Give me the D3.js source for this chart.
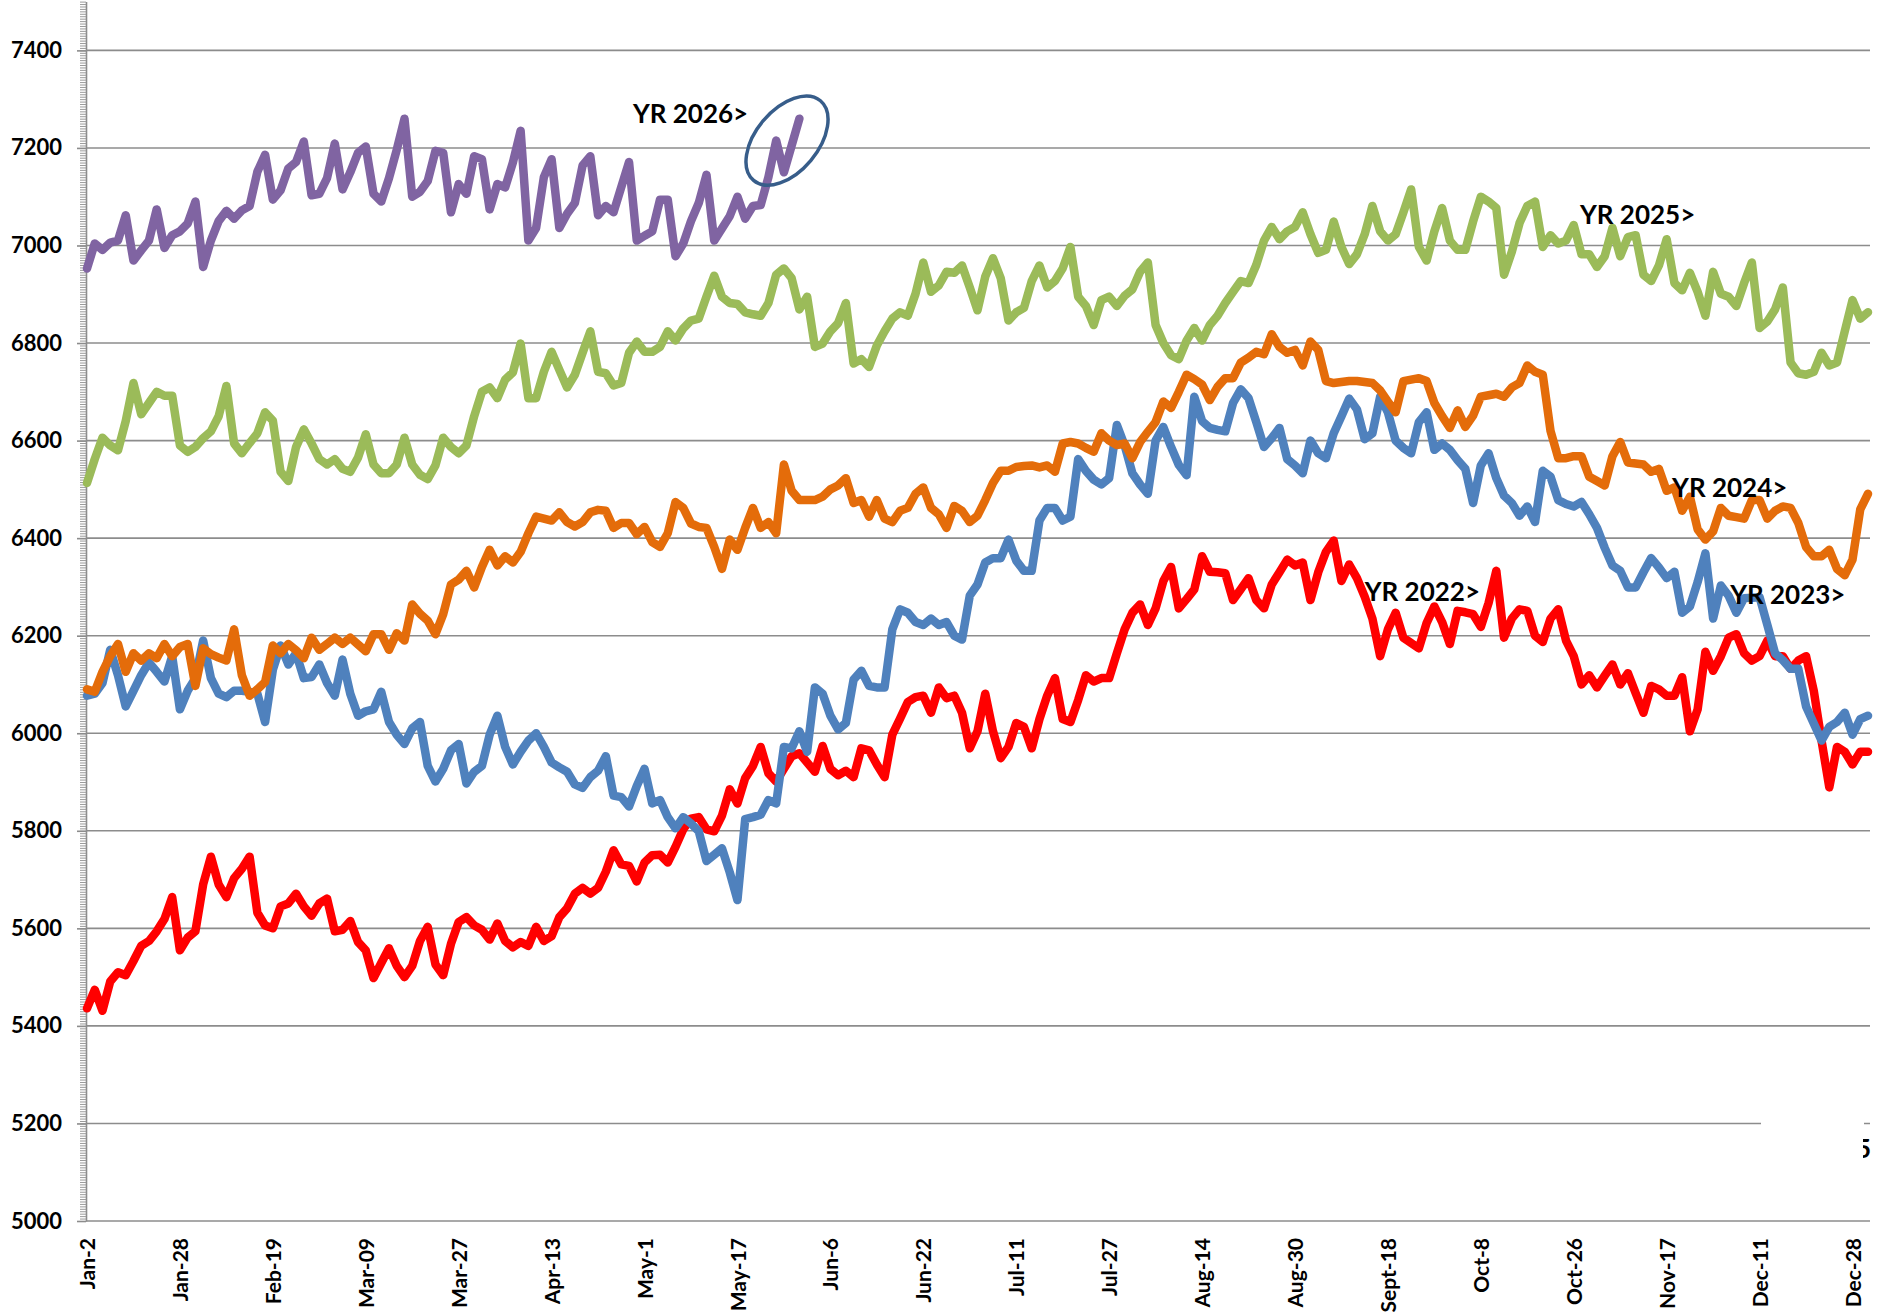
<!DOCTYPE html>
<html>
<head>
<meta charset="utf-8">
<script src="https://cdn.jsdelivr.net/npm/d3@7"></script>
<style>
  body { margin: 0; background: #fff; }
  svg text { font-family: Lato, "Open Sans", sans-serif; font-weight: bold; fill: #000; }
</style>
</head>
<body>
<script>
// Chart size
var width = 1881,
    height = 1314;

// Category axis: one point per trading day, a label every 12 points
var nPoints = 231;
var tickStep = 12;
var tickLabels = ["Jan-2", "Jan-28", "Feb-19", "Mar-09", "Mar-27", "Apr-13", "May-1", "May-17",
    "Jun-6", "Jun-22", "Jul-11", "Jul-27", "Aug-14", "Aug-30", "Sept-18", "Oct-8", "Oct-26",
    "Nov-17", "Dec-11", "Dec-28"];

var yTicks = [5000, 5200, 5400, 5600, 5800, 6000, 6200, 6400, 6600, 6800, 7000, 7200, 7400];

// Series values
var yr2022 = [
    5436, 5474, 5431, 5491, 5510, 5504, 5533, 5564, 5574, 5594,
    5619, 5664, 5555, 5581, 5594, 5690, 5747, 5690, 5664, 5703,
    5722, 5747, 5632, 5606, 5600, 5645, 5651, 5671, 5645, 5626,
    5651, 5661, 5594, 5597, 5615, 5572, 5555, 5498, 5529, 5559,
    5523, 5500, 5523, 5574, 5603, 5526, 5504, 5568, 5613, 5623,
    5606, 5597, 5577, 5610, 5574, 5561, 5572, 5564, 5603, 5574,
    5584, 5623, 5641, 5671, 5683, 5671, 5683, 5716, 5760, 5731,
    5728, 5696, 5735, 5750, 5751, 5735, 5767, 5803, 5825, 5828,
    5803, 5799, 5831, 5885, 5856, 5908, 5933, 5972, 5918, 5901,
    5927, 5953, 5959, 5940, 5921, 5974, 5927, 5914, 5923, 5910,
    5969, 5965, 5936, 5910, 5997, 6030, 6064, 6074, 6077, 6042,
    6094, 6072, 6077, 6042, 5969, 6004, 6081, 6004, 5949, 5972,
    6021, 6013, 5969, 6029, 6077, 6113, 6029, 6023, 6068, 6119,
    6106, 6113, 6113, 6164, 6213, 6247, 6264, 6222, 6256, 6312,
    6341, 6256, 6275, 6295, 6363, 6331, 6330, 6328, 6273, 6295,
    6318, 6273, 6256, 6305, 6330, 6356, 6344, 6350, 6273, 6330,
    6372, 6395, 6312, 6346, 6318, 6280, 6235, 6158, 6213, 6247,
    6196, 6185, 6174, 6226, 6260, 6228, 6183, 6251, 6248, 6244,
    6218, 6267, 6333, 6196, 6235, 6254, 6251, 6200, 6187, 6235,
    6254, 6190, 6158, 6100, 6119, 6094, 6118, 6141, 6100, 6123,
    6082, 6042, 6097, 6090, 6077, 6077, 6115, 6004, 6049, 6167,
    6128, 6158, 6196, 6203, 6164, 6149, 6158, 6190, 6158, 6158,
    6132, 6149, 6158, 6087, 5985, 5889, 5972, 5962, 5936, 5962,
    5962];

var yr2023 = [
    6077, 6081, 6103, 6171, 6119, 6055, 6087, 6119, 6145, 6126,
    6106, 6158, 6049, 6087, 6113, 6190, 6113, 6081, 6074, 6087,
    6087, 6085, 6081, 6023, 6130, 6180, 6141, 6164, 6113, 6115,
    6141, 6103, 6077, 6151, 6081, 6036, 6045, 6049, 6085, 6023,
    5997, 5978, 6010, 6023, 5933, 5901, 5927, 5965, 5978, 5897,
    5921, 5933, 5997, 6036, 5972, 5936, 5962, 5985, 6000, 5972,
    5940, 5930, 5921, 5895, 5888, 5910, 5923, 5953, 5872, 5869,
    5850, 5892, 5927, 5856, 5863, 5828, 5805, 5828, 5815, 5799,
    5738, 5751, 5764, 5715, 5658, 5824, 5828, 5833, 5863, 5856,
    5972, 5969, 6004, 5962, 6094, 6081, 6036, 6008, 6021, 6110,
    6128, 6097, 6094, 6094, 6213, 6254, 6247, 6228, 6222, 6235,
    6222, 6228, 6200, 6192, 6282, 6305, 6350, 6359, 6359, 6397,
    6354, 6333, 6333, 6436, 6462, 6462, 6436, 6444, 6562, 6538,
    6520, 6510, 6523, 6632, 6590, 6533, 6510, 6491, 6600, 6628,
    6587, 6550, 6529, 6690, 6640, 6626, 6622, 6619, 6677, 6705,
    6687, 6638, 6587, 6605, 6626, 6562, 6549, 6533, 6600, 6574,
    6564, 6615, 6650, 6686, 6664, 6603, 6615, 6690, 6658, 6600,
    6585, 6574, 6638, 6658, 6581, 6594, 6581, 6560, 6542, 6472,
    6549, 6574, 6523, 6487, 6472, 6446, 6465, 6433, 6538, 6526,
    6478, 6470, 6465, 6474, 6449, 6421, 6380, 6344, 6333, 6299,
    6299, 6330, 6359, 6340, 6318, 6331, 6247, 6260, 6310, 6369,
    6235, 6303, 6282, 6247, 6277, 6278, 6279, 6222, 6164, 6150,
    6132, 6132, 6055, 6020, 5985, 6013, 6023, 6042, 5997, 6029,
    6036];

var yr2024 = [
    6090, 6085, 6126, 6158, 6183, 6126, 6164, 6149, 6164, 6154,
    6183, 6158, 6177, 6183, 6097, 6174, 6162, 6155, 6149, 6213,
    6119, 6077, 6090, 6105, 6180, 6164, 6183, 6170, 6154, 6196,
    6171, 6183, 6196, 6183, 6196, 6182, 6168, 6203, 6203, 6171,
    6205, 6190, 6264, 6245, 6231, 6203, 6244, 6305, 6315, 6333,
    6299, 6341, 6376, 6344, 6363, 6350, 6372, 6410, 6444, 6440,
    6436, 6453, 6433, 6424, 6433, 6453, 6458, 6456, 6421, 6431,
    6431, 6408, 6423, 6392, 6382, 6410, 6474, 6462, 6430, 6423,
    6421, 6382, 6337, 6397, 6376, 6421, 6462, 6421, 6433, 6410,
    6551, 6497, 6478, 6478, 6478, 6485, 6500, 6508, 6523, 6472,
    6478, 6444, 6478, 6440, 6433, 6456, 6462, 6491, 6504, 6462,
    6449, 6421, 6466, 6456, 6433, 6446, 6478, 6513, 6538, 6538,
    6546, 6548, 6549, 6545, 6549, 6536, 6594, 6597, 6594, 6585,
    6577, 6615, 6600, 6591, 6594, 6564, 6597, 6618, 6638, 6680,
    6667, 6700, 6735, 6726, 6715, 6683, 6710, 6728, 6728, 6760,
    6770, 6782, 6777, 6818, 6792, 6780, 6786, 6754, 6803, 6786,
    6722, 6718, 6720, 6722, 6722, 6720, 6718, 6703, 6680, 6658,
    6722, 6725, 6728, 6722, 6677, 6650, 6626, 6662, 6628, 6651,
    6690, 6693, 6696, 6690, 6709, 6718, 6754, 6741, 6735, 6620,
    6564, 6564, 6568, 6568, 6526, 6517, 6508, 6568, 6597, 6555,
    6553, 6551, 6536, 6542, 6497, 6504, 6456, 6485, 6418, 6397,
    6414, 6462, 6446, 6443, 6440, 6478, 6478, 6440, 6456, 6465,
    6462, 6431, 6382, 6363, 6363, 6376, 6337, 6324, 6356, 6459,
    6491];

var yr2025 = [
    6513, 6562, 6606, 6590, 6580, 6640, 6718, 6654, 6677, 6700,
    6692, 6692, 6590, 6577, 6587, 6605, 6619, 6650, 6712, 6594,
    6574, 6595, 6615, 6658, 6641, 6536, 6517, 6587, 6623, 6594,
    6562, 6551, 6562, 6542, 6536, 6565, 6613, 6551, 6533, 6533,
    6551, 6606, 6551, 6530, 6521, 6549, 6606, 6587, 6574, 6590,
    6650, 6700, 6709, 6687, 6725, 6740, 6799, 6687, 6687, 6741,
    6782, 6745, 6709, 6735, 6780, 6824, 6741, 6738, 6713, 6718,
    6780, 6803, 6782, 6782, 6792, 6824, 6805, 6830, 6846, 6850,
    6895, 6938, 6895, 6882, 6880, 6863, 6859, 6856, 6882, 6940,
    6953, 6933, 6869, 6895, 6792, 6799, 6824, 6841, 6882, 6758,
    6767, 6751, 6795, 6824, 6850, 6863, 6856, 6901, 6965, 6905,
    6918, 6946, 6944, 6959, 6914, 6867, 6936, 6974, 6933, 6846,
    6863, 6872, 6927, 6959, 6914, 6927, 6953, 6997, 6895, 6876,
    6837, 6888, 6895, 6876, 6897, 6910, 6946, 6965, 6837, 6800,
    6775, 6767, 6805, 6831, 6805, 6837, 6856, 6882, 6905, 6927,
    6923, 6960, 7010, 7038, 7013, 7029, 7038, 7068, 7023, 6985,
    6991, 7049, 6997, 6962, 6982, 7023, 7081, 7029, 7010, 7023,
    7068, 7115, 6997, 6969, 7029, 7077, 7010, 6991, 6991, 7049,
    7100, 7090, 7077, 6940, 6987, 7046, 7081, 7090, 6997, 7021,
    7004, 7010, 7042, 6982, 6982, 6956, 6978, 7036, 6978, 7017,
    7021, 6940, 6927, 6959, 7013, 6923, 6908, 6944, 6905, 6856,
    6946, 6901, 6895, 6876, 6923, 6965, 6831, 6844, 6869, 6914,
    6760, 6738, 6735, 6741, 6780, 6754, 6760, 6824, 6888, 6850,
    6863];

var yr2026 = [
    6953, 7004, 6991, 7006, 7010, 7062, 6969, 6990, 7010, 7074,
    6995, 7021, 7029, 7045, 7090, 6956, 7010, 7050, 7071, 7055,
    7072, 7081, 7151, 7186, 7094, 7113, 7158, 7171, 7213, 7103,
    7106, 7138, 7209, 7115, 7150, 7190, 7203, 7106, 7090, 7138,
    7196, 7260, 7100, 7110, 7132, 7194, 7190, 7068, 7126, 7106,
    7183, 7177, 7074, 7126, 7119, 7170, 7235, 7010, 7036, 7140,
    7177, 7036, 7065, 7087, 7164, 7183, 7062, 7081, 7068, 7120,
    7171, 7010, 7020, 7029, 7094, 7094, 6978, 7004, 7050, 7087,
    7145, 7010, 7035, 7060, 7100, 7055, 7081, 7083, 7140, 7215,
    7150, 7205, 7260];

var seriesColors = ["#ff0000", "#4f81bd", "#e46c0a", "#9bbb59", "#8064a2"];

// Year labels: text, category index of left edge, value at text middle
var yearLabels = [
    {text: "YR 2026>", idx: 70.5, val: 7269},
    {text: "YR 2025>", idx: 192.8, val: 7062},
    {text: "YR 2024>", idx: 204.7, val: 6504},
    {text: "YR 2023>", idx: 212.2, val: 6283},
    {text: "YR 2022>", idx: 165.0, val: 6289}
];

var svg = d3.select("body")
            .append("svg")
            .attr("width", width)
            .attr("height", height);

var x = d3.scaleLinear()
    .domain([0, nPoints - 1])
    .range([87, 1868]);

var y = d3.scaleLinear()
    .domain([5000, 7500])
    .range([1221, 1.6]);

var axisX = 86,
    gridRight = 1870;

// horizontal grid lines
svg.append("g")
    .selectAll("line")
    .data(yTicks)
    .enter().append("line")
    .attr("x1", axisX)
    .attr("x2", gridRight)
    .attr("y1", function(d) { return y(d); })
    .attr("y2", function(d) { return y(d); })
    .attr("stroke", "#8c8c8c")
    .attr("stroke-width", 1.6);

// minor ticks on the value axis
var minor = svg.append("g")
    .attr("transform", "translate(" + axisX + ",0)")
    .call(d3.axisLeft(y)
        .tickValues(d3.range(5000, 7501, 5))
        .tickSize(6)
        .tickSizeOuter(0)
        .tickFormat(""));
minor.selectAll("line").attr("stroke", "#9a9a9a");
minor.select(".domain").attr("stroke", "#8c8c8c").attr("stroke-width", 1.6);

// major ticks and labels
var yAxis = svg.append("g")
    .attr("transform", "translate(" + axisX + ",0)")
    .call(d3.axisLeft(y)
        .tickValues(yTicks)
        .tickFormat(d3.format("d"))
        .tickSize(9)
        .tickSizeOuter(0)
        .tickPadding(15));
yAxis.select(".domain").remove();
yAxis.selectAll("line").attr("stroke", "#8c8c8c").attr("stroke-width", 1.6);
yAxis.selectAll("text")
    .style("font-size", "22px");

// category labels, rotated
var xAxis = svg.append("g")
    .attr("transform", "translate(0," + y(5000) + ")")
    .call(d3.axisBottom(x)
        .tickValues(d3.range(0, nPoints, tickStep).slice(0, tickLabels.length))
        .tickFormat(function(d) { return tickLabels[d / tickStep]; })
        .tickSize(0));
xAxis.select(".domain").remove();
xAxis.selectAll("text")
    .attr("transform", "rotate(-90)")
    .attr("text-anchor", "end")
    .attr("x", -17)
    .attr("y", 0)
    .attr("dy", "0.36em")
    .style("font-size", "21px");

// leftover text box over the 5200 line at the right edge
svg.append("rect")
    .attr("x", 1761)
    .attr("y", y(5200) - 20)
    .attr("width", 103)
    .attr("height", 60)
    .attr("fill", "#fff");
svg.append("clipPath")
    .attr("id", "cut")
  .append("rect")
    .attr("x", 1863)
    .attr("y", 1100)
    .attr("width", 20)
    .attr("height", 80);
svg.append("text")
    .attr("clip-path", "url(#cut)")
    .attr("x", 1871)
    .attr("y", 1158)
    .attr("text-anchor", "end")
    .style("font-size", "26px")
    .text("5");

// the series
var line = d3.line()
    .x(function(d, i) { return x(i); })
    .y(function(d) { return y(d); });

var allSeries = [yr2022, yr2023, yr2024, yr2025, yr2026];

svg.append("g")
    .selectAll("path")
    .data(allSeries)
    .enter().append("path")
    .attr("d", line)
    .attr("fill", "none")
    .attr("stroke", function(d, i) { return seriesColors[i]; })
    .attr("stroke-width", 8.5)
    .attr("stroke-linejoin", "round")
    .attr("stroke-linecap", "round");

// circle round the latest 2026 points
var last = yr2026.length - 1;
svg.append("ellipse")
    .attr("cx", 0)
    .attr("cy", 0)
    .attr("rx", 52)
    .attr("ry", 31)
    .attr("transform", "translate(" + x(last - 1.6) + "," + y(7215) + ") rotate(-50)")
    .attr("fill", "none")
    .attr("stroke", "#375d8a")
    .attr("stroke-width", 3.5);

// year labels
svg.append("g")
    .selectAll("text")
    .data(yearLabels)
    .enter().append("text")
    .attr("x", function(d) { return x(d.idx); })
    .attr("y", function(d) { return y(d.val); })
    .attr("dy", "0.35em")
    .style("font-size", "26px")
    .text(function(d) { return d.text; });
</script>
</body>
</html>
